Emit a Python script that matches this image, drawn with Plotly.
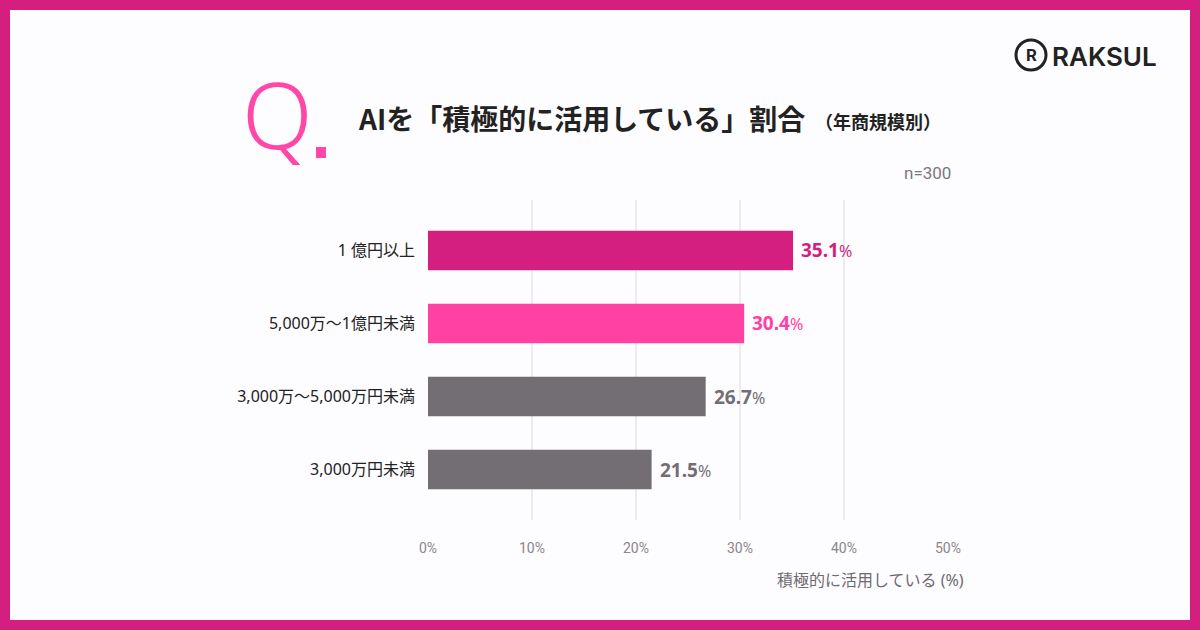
import plotly.graph_objects as go

categories = ["1 億円以上", "5,000万～1億円未満", "3,000万～5,000万円未満", "3,000万円未満"]
values = [35.1, 30.4, 26.7, 21.5]
bar_colors = ["#D41F80", "#FF41A3", "#736E74", "#736E74"]
tick_vals = [0, 10, 20, 30, 40, 50]
tick_text = ["0%", "10%", "20%", "30%", "40%", "50%"]

W, H = 1200, 630
L, R, T, B = 428, 948, 200, 520
JP = "Noto Sans CJK JP"
MIX = "Noto Sans, Noto Sans CJK JP"

def px(x):
    return (x - L) / (R - L)

def py(y):
    return (B - y) / (B - T)

fig = go.Figure()
fig.add_trace(go.Bar(
    x=values, y=categories, orientation="h",
    marker=dict(color=bar_colors, line=dict(width=0)),
    width=0.54, hoverinfo="skip",
))

annotations = []
for c, v, col in zip(categories, values, bar_colors):
    annotations.append(dict(
        x=v, y=c, xref="x", yref="y", xanchor="left", yanchor="middle",
        xshift=6, showarrow=False,
        text=f"<b>{v:.1f}</b><span style='font-size:16px'>%</span>",
        font=dict(family="Noto Sans", size=19, color=col),
    ))

# Q.
annotations.append(dict(x=px(240), y=py(114), xref="paper", yref="paper",
    xanchor="left", yanchor="middle", showarrow=False, text="Q",
    font=dict(family="Noto Sans", size=92, color="#FF47A8", weight=300)))
# title
annotations.append(dict(x=px(356), y=py(118), xref="paper", yref="paper",
    xanchor="left", yanchor="middle", showarrow=False,
    text="<b>AIを「積極的に活用している」割合</b>",
    font=dict(family=JP, size=28, color="#222222")))
annotations.append(dict(x=px(813), y=py(121), xref="paper", yref="paper",
    xanchor="left", yanchor="middle", showarrow=False,
    text="<b>（年商規模別）</b>",
    font=dict(family=JP, size=18, color="#222222")))
# n=300
annotations.append(dict(x=px(953), y=py(173), xref="paper", yref="paper",
    xanchor="right", yanchor="middle", showarrow=False, text="n=300",
    font=dict(family="Roboto", size=17, color="#7A777C")))
# axis title
annotations.append(dict(x=px(966), y=py(580), xref="paper", yref="paper",
    xanchor="right", yanchor="middle", showarrow=False,
    text="積極的に活用している (%)",
    font=dict(family=MIX, size=16, color="#6E6A70")))
# logo
annotations.append(dict(x=px(1031), y=py(55), xref="paper", yref="paper",
    xanchor="center", yanchor="middle", showarrow=False, text="<b>R</b>",
    font=dict(family="Roboto", size=17, color="#222222")))
annotations.append(dict(x=px(1050), y=py(56), xref="paper", yref="paper",
    xanchor="left", yanchor="middle", showarrow=False, text="RAKSUL",
    font=dict(family="Inter", size=26, color="#222222", weight=600)))

shapes = [
    dict(type="rect", xref="paper", yref="paper", layer="below",
         x0=px(10), x1=px(1190), y0=py(620), y1=py(10),
         fillcolor="#FDFCFE", line=dict(width=0)),
    dict(type="rect", xref="paper", yref="paper",
         x0=px(316), x1=px(326), y0=py(158), y1=py(147),
         fillcolor="#FF47A8", line=dict(width=0)),
    dict(type="circle", xref="paper", yref="paper",
         x0=px(1016), x1=px(1046), y0=py(70), y1=py(40),
         line=dict(color="#222222", width=3)),
]

fig.update_layout(
    width=W, height=H,
    margin=dict(l=L, r=W - R, t=T, b=H - B, pad=0),
    paper_bgcolor="#D41F80", plot_bgcolor="rgba(0,0,0,0)",
    showlegend=False, bargap=0.46,
    annotations=annotations, shapes=shapes,
    xaxis=dict(range=[0, 50], tickvals=tick_vals, ticktext=tick_text,
               showgrid=True, gridcolor="#EEEBF0", gridwidth=2,
               zeroline=False, showline=False, ticks="",
               ticklabelstandoff=18,
               tickfont=dict(family="Roboto", size=14, color="#8A878C"),
               fixedrange=True),
    yaxis=dict(categoryorder="array", categoryarray=categories,
               range=[3.69, -0.69], showgrid=False, zeroline=False,
               showline=False, ticks="", ticklabelstandoff=12,
               tickfont=dict(family=MIX, size=16, color="#222222"),
               fixedrange=True),
)

fig.write_html("out.html")
